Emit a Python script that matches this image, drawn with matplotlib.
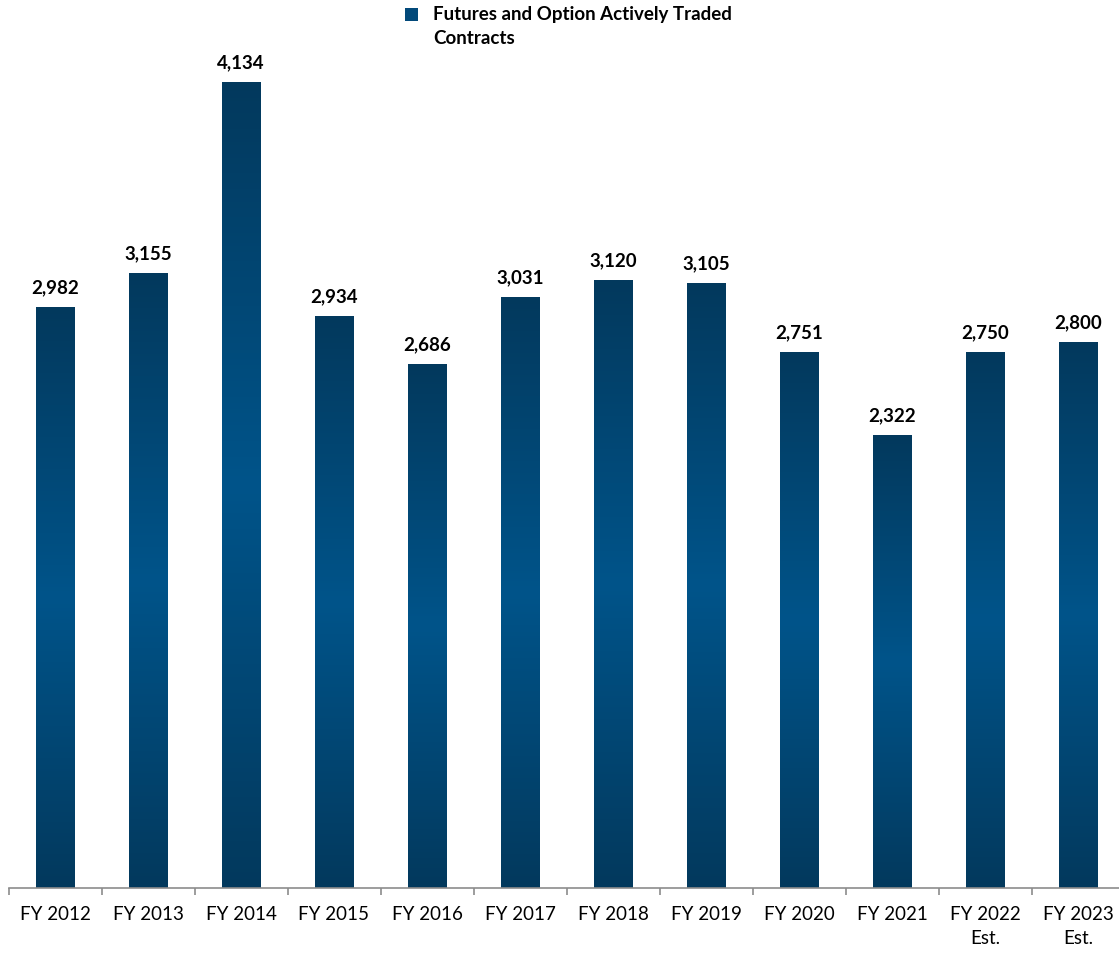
import numpy as np
import matplotlib.pyplot as plt
from matplotlib.colors import LinearSegmentedColormap
from matplotlib.patches import Rectangle

categories = ["FY 2012", "FY 2013", "FY 2014", "FY 2015", "FY 2016", "FY 2017",
              "FY 2018", "FY 2019", "FY 2020", "FY 2021", "FY 2022\nEst.", "FY 2023\nEst."]
values = [2982, 3155, 4134, 2934, 2686, 3031, 3120, 3105, 2751, 2322, 2750, 2800]
series_name = "Futures and Option Actively Traded\nContracts"

plt.rcParams['font.family'] = ['Lato', 'DejaVu Sans']

dark = "#03395d"
light = "#00548a"
cmap = LinearSegmentedColormap.from_list("bar", [dark, light, dark])

fig = plt.figure(figsize=(11.19, 9.54), dpi=100)
ax = fig.add_axes([8.5 / 1119, 65 / 954, 1116 / 1119, 889 / 954])

x = np.arange(len(categories))
bars = ax.bar(x, values, width=0.41, color="none", edgecolor="none")

grad = np.linspace(0, 1, 256).reshape(-1, 1)
for b, v in zip(bars, values):
    x0 = b.get_x()
    ax.imshow(grad, extent=[x0, x0 + b.get_width(), 0, b.get_height()],
              aspect="auto", cmap=cmap, origin="lower", zorder=2)
    ax.annotate(f"{v:,}", (b.get_x() + b.get_width() / 2, v),
                xytext=(0, 9), textcoords="offset points",
                ha="center", va="bottom", fontsize=13.5, fontweight="bold")

ax.set_xlim(-0.5, len(categories) - 0.5)
ax.set_ylim(0, 4565)

for s in ["left", "right", "top"]:
    ax.spines[s].set_visible(False)
ax.spines["bottom"].set_color("#8c8c8c")
ax.spines["bottom"].set_linewidth(1.2)
ax.set_yticks([])

ax.set_xticks(x)
ax.set_xticklabels(categories, fontsize=13.5, linespacing=1.55)
ax.tick_params(axis="x", which="major", length=0, pad=12)
ax.set_xticks(np.arange(-0.5, len(categories)), minor=True)
ax.tick_params(axis="x", which="minor", length=5, color="#8c8c8c", width=1.2)

# legend
fig.patches.append(Rectangle((405 / 1119, 1 - 22 / 954), 13 / 1119, 13 / 954,
                             transform=fig.transFigure, facecolor="#02497a",
                             edgecolor="none"))
fig.text(433 / 1119, 1 - 6 / 954, series_name, ha="left", va="top",
         fontsize=13.5, fontweight="bold", linespacing=1.5)

fig.savefig("out.png", dpi=100)
